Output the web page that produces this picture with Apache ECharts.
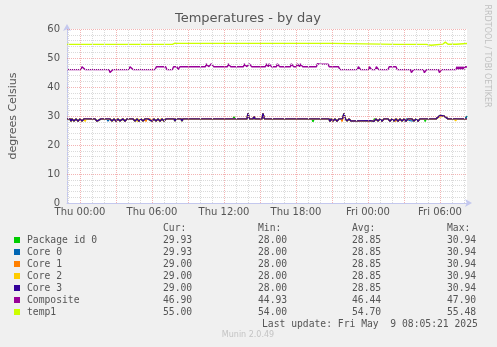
<!DOCTYPE html>
<html><head><meta charset="utf-8">
<script src="https://cdn.jsdelivr.net/npm/echarts@6/dist/echarts.min.js"></script>
<style>html,body{margin:0;padding:0;background:#f0f0f0;}#c{width:497px;height:347px;}</style>
</head><body><div id="c"></div>
<script>
// ---- legend / table data ----
const seriesNames = ['Package id 0','Core 0','Core 1','Core 2','Core 3','Composite','temp1'];
const seriesColors = ['#00cc00','#0066b3','#ff8000','#ffcc00','#330099','#990099','#ccff00'];
const curVals = ['29.93','29.93','29.00','29.00','29.00','46.90','55.00'];
const minVals = ['28.00','28.00','28.00','28.00','28.00','44.93','54.00'];
const avgVals = ['28.85','28.85','28.85','28.85','28.85','46.44','54.70'];
const maxVals = ['30.94','30.94','30.94','30.94','30.94','47.90','55.48'];
const lastUpdate = 'Last update: Fri May  9 08:05:21 2025';

// ---- axis ticks (x in minutes since Thu 00:00) ----
const xTickMinutes = [0,360,720,1080,1440,1800];
const xTickLabels = ['Thu 00:00','Thu 06:00','Thu 12:00','Thu 18:00','Fri 00:00','Fri 06:00'];
const yTickLabels = [0,10,20,30,40,50,60];

// ---- series data: [minutes since Thu 00:00, °C] ----
const coreCommon = [
[-65,29],[-50,29],[-45,28.2],[-40,29],[-30,28.3],[-20,29],[-10,28.2],[0,29],[10,28.3],[20,29],[25,28.5],[30,29],
[75,29],[85,28.2],[95,28.4],[105,29],
[150,29],[160,28.3],[170,29],[180,28.2],[190,29],[200,28.3],[215,29],[225,28.2],[235,29],[245,28.4],[250,29],
[265,29],[275,28.3],[285,29],[295,28.2],[305,29],[315,28.3],[325,29],[335,28.4],[340,29],
[350,29],[360,28.2],[370,29],[380,28.3],[390,29],[400,28.2],[410,29],[420,28.3],[430,29],
[470,29],[475,28.3],[480,29],[505,29],[510,28.3],[515,29],
[665,29],[670,29.5],[675,29],
[815,29],[820,29.6],[825,29],[835,29],[840,30.94],[847,29],
[865,29],[870,29.8],[875,29],[895,29],[900,29.6],[905,29],[910,29],[915,30.9],[922,29],
[940,29],[945,29.6],[950,29],[1035,29],[1040,29.4],[1045,29],
[1245,29],[1250,28.1],[1255,29],[1265,28.3],[1275,29],[1285,28.2],[1295,29],[1305,28.4],[1312,29],[1320,30.9],[1327,29],[1335,28.3],[1345,29],[1355,28.3],[1365,28.4],
[1450,28.4],[1460,29],[1470,28.2],[1480,29],[1490,28.3],[1500,29],[1510,28.2],[1520,29],[1530,28.4],[1540,29],[1550,28.2],[1560,29],[1570,28.3],[1580,29],[1590,28.2],[1600,29],[1610,28.3],[1620,29],[1630,28.2],[1640,29],[1650,28.4],[1660,29],[1670,28.3],[1680,29],[1690,28.2],[1700,29],
[1780,29],[1790,29.6],[1800,30.2],[1810,29.8],[1820,30],[1830,29.4],[1840,29],[1850,28.4],[1860,29],[1870,28.5],[1875,29],[1935,29]
];
const packageDiff = [
[[765,29],[770,29.7],[775,29]],
[[1160,29],[1165,28],[1170,29]],
[[1195,29],[1200,29.6],[1205,29]],
[[1462,29],[1466,28.1],[1472,29]],
[[1722,29],[1726,28.1],[1730,29]],
[[1925,29],[1935,29.93]]
];
const core0Diff = [
[[135,29],[140,28.2],[146,29]],
[[765,29],[770,29.5],[775,29]],
[[1622,29],[1626,28.1],[1632,29]],
[[1925,29],[1935,29.93]]
];
const core1Diff = [
[[326,29],[330,28.1],[334,29]],
[[1306,29],[1310,28.1],[1314,29]],
[[1574,29],[1578,28.1],[1584,29]]
];
const core2Diff = [
[[22,29],[26,28.1],[30,29]],
[[282,29],[286,28.1],[290,29]],
[[396,29],[400,28],[404,29]],
[[1795,29.6],[1802,29.2],[1808,29.8]],
[[1872,29],[1878,28.3],[1884,29]]
];
const core3Diff = [];
const composite = [
[-65,46],[5,46],[10,47],[20,47],[25,46],
[145,46],[150,45],[160,45],[165,46],
[245,46],[250,47],[260,47],[265,46],
[375,46],[382,47],[428,47],[435,46],[462,46],[468,47],[485,47],[490,46],[495,46],[500,47],
[627,47],[632,48],[638,48],[643,47],
[652,47],[657,48],[663,48],[668,47],
[737,47],[742,48],[748,48],[753,47],
[817,47],[822,48],[828,48],[833,47],
[842,47],[847,48],[853,48],[858,47],
[927,47],[932,48],[938,48],[942,47],[946,48],[952,48],[957,47],
[982,47],[987,48],[993,48],[998,47],
[1052,47],[1057,48],[1063,48],[1068,47],
[1082,47],[1087,48],[1093,48],[1098,47],[1102,48],[1108,48],[1113,47],
[1182,47],[1187,48],[1192,48],[1196,47.6],[1200,47.9],[1240,47.9],[1246,47],
[1292,47],[1300,46],
[1387,46],[1392,47],[1398,47],[1403,46],
[1442,46],[1447,47],[1453,47],[1458,46],
[1477,46],[1482,47],[1488,47],[1493,46],
[1540,46],[1546,47],[1580,47],[1586,46],
[1652,46],[1657,45],[1663,45],[1668,46],
[1717,46],[1722,44.93],[1728,45],[1733,46],
[1792,46],[1797,45],[1803,45],[1808,46],
[1880,46],[1885,47],[1890,46],[1895,47],[1900,46],[1905,47],[1910,46],[1915,47],[1920,46],[1925,47],[1935,46.9]
];
const temp1 = [
[-65,54.7],[75,54.7],[80,55],[85,54.7],[235,54.7],[240,54.3],[245,54.7],
[385,54.7],[390,54.3],[395,54.7],[430,54.7],[435,55],[440,54.7],
[462,54.7],[465,55],[470,54.8],[475,55.1],[480,54.8],[490,55.05],
[995,55.05],[1000,55.2],[1005,55.05],[1265,55.05],[1272,54.7],
[1585,54.7],[1590,54.5],[1600,54.7],[1610,54.5],[1620,54.7],[1630,54.5],[1650,54.7],
[1732,54.7],[1737,54.4],[1755,54.4],[1760,54.7],
[1815,54.8],[1822,55.2],[1827,55.48],[1832,55],[1840,54.75],
[1880,54.75],[1885,55],[1890,54.75],[1935,55]
];

function withDiff(common, groups) {
  let pts = common.slice();
  groups.forEach(g => {
    const a = g[0][0], b = g[g.length-1][0];
    pts = pts.filter(p => p[0] < a || p[0] > b).concat(g);
  });
  return pts.sort((p, q) => p[0] - q[0]);
}
const seriesData = [
  withDiff(coreCommon, packageDiff),
  withDiff(coreCommon, core0Diff),
  withDiff(coreCommon, core1Diff),
  withDiff(coreCommon, core2Diff),
  withDiff(coreCommon, core3Diff),
  composite,
  temp1
];

// ---- styling ----
const RED = 'rgba(235,130,130,0.6)';
const GREY = '#dadada';
const AXIS = '#c4c8ee';
const TXT = '#555555';
const SANS = 'DejaVu Sans';

// grid lines (hourly, red every 3h; horizontal every 2, red every 10)
const gridLines = [];
for (let m = -60; m <= 1920; m += 60) {
  gridLines.push({xAxis: m, lineStyle: {color: (m % 180 === 0) ? RED : GREY, type: [1, 1], width: 1}});
}
for (let v = 2; v <= 60; v += 2) {
  gridLines.push({yAxis: v, lineStyle: {color: (v % 10 === 0) ? RED : GREY, type: [1, 1], width: 1}});
}

const chart = echarts.init(document.getElementById('c'), null, {renderer: 'canvas'});

const graphic = [];
graphic.push({type:'text', x:248, y:19, style:{text:'Temperatures - by day', font:'13px "DejaVu Sans"', fill:TXT, align:'center', verticalAlign:'middle'}});
graphic.push({type:'text', x:13, y:116, rotation:Math.PI/2, style:{text:'degrees Celsius', font:'11px "DejaVu Sans"', fill:TXT, align:'center', verticalAlign:'middle'}});
graphic.push({type:'text', x:487, y:56, rotation:-Math.PI/2, style:{text:'RRDTOOL / TOBI OETIKER', font:'8px "DejaVu Sans"', fill:'#c0c0c0', align:'center', verticalAlign:'middle'}});
graphic.push({type:'text', x:248, y:335, style:{text:'Munin 2.0.49', font:'8px "DejaVu Sans"', fill:'#c4c4c4', align:'center', verticalAlign:'middle'}});
const MF = '9.7px "DejaVu Sans Mono"';
const colX = [163, 258, 352, 447];
['Cur:','Min:','Avg:','Max:'].forEach((h, j) => {
  graphic.push({type:'text', x:colX[j], y:228, style:{text:h, font:MF, fill:TXT, align:'left', verticalAlign:'middle'}});
});
seriesNames.forEach((n, i) => {
  const y = 240 + 12 * i;
  graphic.push({type:'rect', shape:{x:14, y:y-3, width:6, height:6}, style:{fill:seriesColors[i]}});
  graphic.push({type:'text', x:27, y:y, style:{text:n, font:MF, fill:TXT, align:'left', verticalAlign:'middle'}});
  [curVals, minVals, avgVals, maxVals].forEach((arr, j) => {
    graphic.push({type:'text', x:colX[j], y:y, style:{text:arr[i], font:MF, fill:TXT, align:'left', verticalAlign:'middle'}});
  });
});
graphic.push({type:'text', x:262, y:324, style:{text:lastUpdate, font:MF, fill:TXT, align:'left', verticalAlign:'middle'}});

const series = [{
  name:'grid', type:'line', data:[], z:1, silent:true,
  markLine:{silent:true, symbol:['none','none'], animation:false, label:{show:false}, emphasis:{disabled:true}, data:gridLines}
}].concat(seriesNames.map((n, i) => ({
  name:n, type:'line', data:seriesData[i], showSymbol:false, symbol:'none',
  lineStyle:{color:seriesColors[i], width:1.4}, itemStyle:{color:seriesColors[i]},
  z: 3, silent:true
})));

chart.setOption({
  animation: false,
  backgroundColor: '#f0f0f0',
  grid: {left:67, top:29, width:400, height:174, show:true, backgroundColor:'#ffffff', borderWidth:0},
  xAxis: {
    type:'value', min:-65, max:1935, interval:5,
    axisLine:{show:true, onZero:false, lineStyle:{color:AXIS, width:1}, symbol:['none','arrow'], symbolSize:[6,7], symbolOffset:[0,5]},
    axisTick:{show:false},
    axisLabel:{color:TXT, fontFamily:SANS, fontSize:10, margin:4, showMinLabel:false, showMaxLabel:false,
      formatter: v => { const k = xTickMinutes.indexOf(v); return k >= 0 ? xTickLabels[k] : ''; }},
    splitLine:{show:false}
  },
  yAxis: {
    type:'value', min:0, max:60, interval:2,
    axisLine:{show:true, onZero:false, lineStyle:{color:AXIS, width:1}, symbol:['none','arrow'], symbolSize:[6,7], symbolOffset:[0,5]},
    axisTick:{show:false},
    axisLabel:{color:TXT, fontFamily:SANS, fontSize:10, margin:7,
      formatter: v => (yTickLabels.indexOf(v) >= 0 ? String(v) : '')},
    splitLine:{show:false}
  },
  graphic: graphic,
  series: series
});
</script></body></html>
